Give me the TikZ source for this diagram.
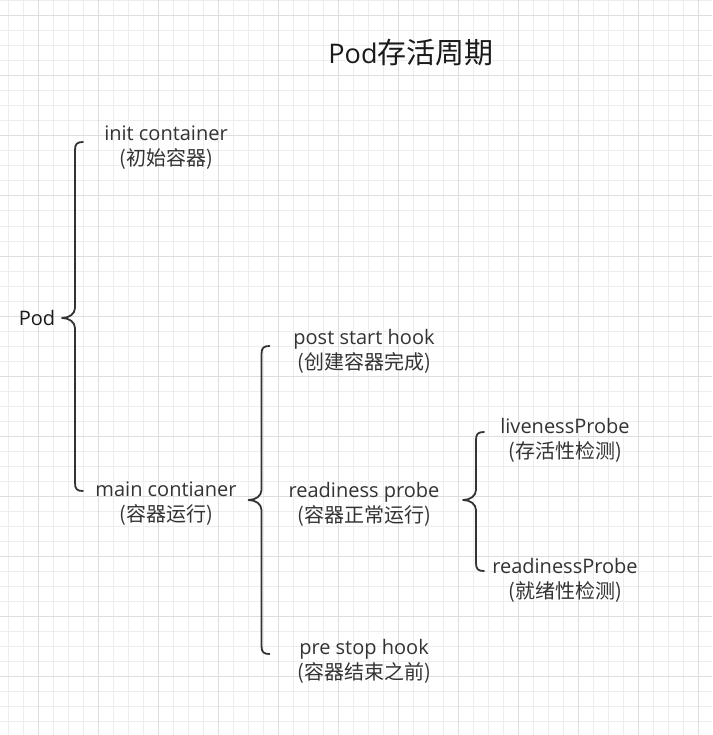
\documentclass[tikz,border=0pt]{standalone}
\usepackage{fontspec}
\setmainfont{Open Sans}
\newfontfamily\cjkfont{Noto Sans CJK SC}
\definecolor{minorgrid}{HTML}{EDEDED}
\definecolor{majorgrid}{HTML}{DEDEDE}
\definecolor{ink}{HTML}{333333}
\definecolor{titleink}{HTML}{1A1A1A}
\newcommand\cjkline[1]{{\cjkfont\fontsize{20}{25}\selectfont #1}}
\tikzset{
  minorline/.style={draw=minorgrid, line width=1pt},
  majorline/.style={draw=majorgrid, line width=1pt},
  bracestyle/.style={draw=ink, line width=1.8pt, line cap=round, line join=round},
  lbl/.style={text=ink, align=center, inner sep=0pt, font=\fontsize{20}{25}\selectfont},
  ttl/.style={text=titleink, inner sep=0pt, font=\fontsize{27}{30}\selectfont},
}
\newcommand\drawmybrace[4]{% x, top, bottom, mid
  \draw[bracestyle] (#1+8,#2) .. controls (#1+2,#2) and (#1,#2+2) .. (#1,#2+8)
    -- (#1,#4-10) .. controls (#1,#4-4) and (#1-6,#4) .. (#1-13,#4)
    .. controls (#1-6,#4) and (#1,#4+4) .. (#1,#4+10)
    -- (#1,#3-8) .. controls (#1,#3-2) and (#1+2,#3) .. (#1+8,#3);}
\begin{document}
\begin{tikzpicture}[x=1pt,y=-1pt]
  \useasboundingbox (0,0) rectangle (712,735);
  \fill[white] (0,0) rectangle (712,735);
  % grid
  \foreach \i in {0,...,47} \draw[minorline] ({8.3+15*\i},0) -- ({8.3+15*\i},735);
  \foreach \i in {0,...,48} \draw[minorline] (0,{1+15*\i}) -- (712,{1+15*\i});
  \foreach \i in {0,...,11} \draw[majorline] ({38.3+60*\i},0) -- ({38.3+60*\i},735);
  \foreach \i in {0,...,11} \draw[majorline] (0,{16+60*\i}) -- (712,{16+60*\i});
  % title
  \node[ttl] (title) at (411,53) {Pod{\cjkfont\fontsize{29}{30}\selectfont 存活周期}};
  % labels
  \node[lbl, text=titleink] (pod) at (37,318) {Pod};
  \node[lbl] (init) at (166,147.5) {init container\\\cjkline{(初始容器)}};
  \node[lbl] (main) at (166,504) {main contianer\\\cjkline{(容器运行)}};
  \node[lbl] (post) at (364,351.5) {post start hook\\\cjkline{(创建容器完成)}};
  \node[lbl] (ready) at (364,504) {readiness probe\\\cjkline{(容器正常运行)}};
  \node[lbl] (pre) at (364,661.5) {pre stop hook\\\cjkline{(容器结束之前)}};
  \node[lbl] (live) at (565,440.5) {livenessProbe\\\cjkline{(存活性检测)}};
  \node[lbl] (readyp) at (565,580.5) {readinessProbe\\\cjkline{(就绪性检测)}};
  % braces
  \drawmybrace{75}{142}{491}{318}
  \drawmybrace{261.5}{346}{654}{500}
  \drawmybrace{476}{432}{571}{500}
\end{tikzpicture}
\end{document}
